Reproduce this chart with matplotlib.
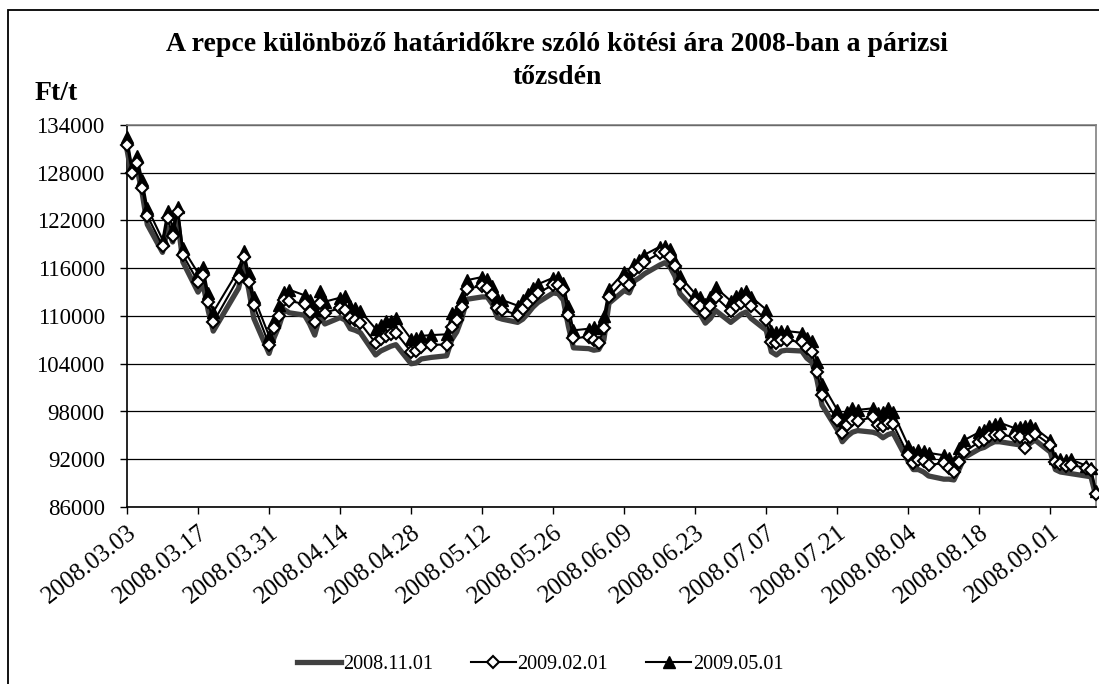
import matplotlib
matplotlib.use("Agg")
import matplotlib.pyplot as plt
from matplotlib.lines import Line2D
from matplotlib.patches import Rectangle
import datetime as dt

plt.rcParams['font.family'] = ['Liberation Serif', 'DejaVu Serif']

# trading days 2008 (Paris)
days_mar = [3, 4, 5, 6, 7, 10, 11, 12, 13, 14, 17, 18, 19, 20, 25, 26, 27, 28, 31]
days_apr = [1, 2, 3, 4, 7, 8, 9, 10, 11, 14, 15, 16, 17, 18, 21, 22, 23, 24, 25, 28, 29, 30]
days_may = [2, 5, 6, 7, 8, 9, 12, 13, 14, 15, 16, 19, 20, 21, 22, 23, 26, 27, 28, 29, 30]
days_jun = [2, 3, 4, 5, 6, 9, 10, 11, 12, 13, 16, 17, 18, 19, 20, 23, 24, 25, 26, 27, 30]
days_jul = [1, 2, 3, 4, 7, 8, 9, 10, 11, 14, 15, 16, 17, 18, 21, 22, 23, 24, 25, 28, 29, 30, 31]
days_aug = [1, 4, 5, 6, 7, 8, 11, 12, 13, 14, 15, 18, 19, 20, 21, 22, 25, 26, 27, 28, 29]
days_sep = [1, 2, 3, 4, 5, 8, 9, 10]

# 2008.11.01 contract (Ft/t)
s_2008_11 = [130900, 127400, 128500, 125400, 121500, 118000, 121100, 119300, 122000, 116800, 113000, 114000, 110700, 108100, 113500, 116300, 113300, 109700, 105300,
             107300, 108800, 110800, 110400, 110100, 109000, 107600, 109900, 109000, 109800, 109500, 108400, 108200, 107900, 105100, 105600, 105900, 106200, 106400, 104000, 104100, 104600,
             104800, 105000, 107000, 108000, 109700, 112100, 112400, 112400, 111500, 109800, 109600, 109200, 109600, 110300, 111100, 111700, 112900, 112800, 112000, 108700, 106000,
             105900, 105700, 105800, 107000, 111600, 113200, 112900, 114400, 114800, 115300, 116400, 116700, 116200, 115000, 112800, 110700, 110200, 109100, 109700, 110700, 109200,
             109700, 110200, 110500, 109700, 108200, 105500, 105100, 105600, 105700, 105600, 104700, 104200, 102000, 98800, 95700, 94200, 94900, 95400, 95600, 95400, 95200, 94700, 95100,
             95300, 91700, 90700, 90700, 90400, 89900, 89500, 89500, 89400, 90700, 92200, 93300, 93500, 93900, 94200, 94200, 93900, 93800, 93200, 94000, 94400,
             92900, 90700, 90400, 90300, 90200, 89900, 89800, 87300]

# 2009.02.01 contract (Ft/t)
s_2009_02 = [131500, 128000, 129200, 126100, 122600, 118800, 122300, 120100, 123100, 117700, 114300, 115200, 111800, 109200, 114800, 117400, 114300, 111400, 106400,
             108500, 110000, 112000, 111900, 111500, 110500, 109200, 111600, 110400, 111000, 110800, 109700, 109500, 109100, 106600, 107100, 107500, 107700, 107900, 105500, 105600, 106100,
             106400, 106400, 108600, 109500, 111100, 113400, 113800, 113500, 112600, 111000, 110800, 110100, 110900, 111600, 112300, 112900, 113900, 113900, 113300, 110100, 107200,
             107400, 107000, 106600, 108500, 112400, 114500, 113900, 115800, 116200, 116800, 117900, 118000, 117400, 116300, 114000, 111800, 111300, 110400, 111300, 112400, 110600,
             111300, 111600, 112000, 111300, 109500, 106700, 106600, 107000, 107000, 106700, 106000, 105500, 103000, 100100, 96900, 95300, 96300, 96900, 96800, 97300, 96300, 96200, 96600,
             96400, 92500, 91500, 91900, 91800, 91300, 91500, 90900, 90400, 91700, 92900, 94200, 94400, 94900, 95000, 95000, 94900, 94800, 93400, 94800, 95200,
             93800, 91700, 91400, 91100, 91300, 90900, 90600, 87600]

# 2009.05.01 contract (Ft/t)
s_2009_05 = [132500, 128700, 130100, 127100, 123600, 119600, 123200, 121100, 123700, 118500, 115400, 116100, 112900, 110500, 115800, 118200, 115400, 112400, 107500,
             109500, 111400, 113000, 113300, 112600, 112000, 110700, 113100, 111800, 112300, 112500, 111300, 111000, 110600, 108400, 108900, 109400, 109400, 109700, 107100, 107200, 107500,
             107600, 107700, 110400, 110800, 112400, 114500, 114900, 114700, 113800, 112300, 112000, 111300, 112000, 112800, 113500, 114000, 114800, 114900, 114100, 111300, 108200,
             108400, 108600, 108500, 110000, 113400, 115500, 114900, 116500, 117000, 117700, 118700, 118800, 118400, 116800, 115000, 112800, 112400, 111500, 112400, 113600, 111900,
             112500, 112900, 113100, 112400, 110800, 108100, 108000, 108100, 108100, 107900, 107200, 106900, 104200, 101500, 98200, 96900, 97900, 98400, 98200, 98400, 97800, 97900, 98400,
             97900, 93700, 92900, 93200, 93000, 92800, 92500, 92200, 91700, 93400, 94400, 95400, 95700, 96200, 96400, 96600, 95900, 96100, 96200, 96300, 95900,
             94400, 92100, 92000, 91900, 92000, 91200, 90900, 88000]

series_labels = ['2008.11.01', '2009.02.01', '2009.05.01']
title_text = 'A repce különböző határidőkre szóló kötési ára 2008-ban a párizsi\ntőzsdén'
y_unit = 'Ft/t'
y_ticks = list(range(86000, 134001, 6000))

months = [(3, days_mar), (4, days_apr), (5, days_may), (6, days_jun),
          (7, days_jul), (8, days_aug), (9, days_sep)]
dates = [dt.date(2008, m, d) for m, ds in months for d in ds]
x_ticks = [dt.date(2008, 3, 3) + dt.timedelta(days=14 * k) for k in range(14)]

W, H = 1099, 684
fig = plt.figure(figsize=(W / 100, H / 100), dpi=100)
ax = fig.add_axes([127 / W, 1 - 507 / H, (1096 - 127) / W, (507 - 125) / H])

ax.plot(dates, s_2008_11, color='#404040', lw=3.8, zorder=3, clip_on=False,
        solid_joinstyle='round')
ax.plot(dates, s_2009_05, color='black', lw=1.5, marker='^', ms=8.5,
        mfc='black', mec='black', zorder=4, clip_on=False)
ax.plot(dates, s_2009_02, color='black', lw=1.5, marker='D', ms=6.3,
        mfc='white', mec='black', mew=1.5, zorder=5, clip_on=False)

ax.set_ylim(86000, 134000)
ax.set_yticks(y_ticks)
ax.set_yticklabels([str(v) for v in y_ticks], fontsize=16.5)
ax.set_xlim(dates[0], dates[-1])
ax.set_xticks(x_ticks)
ax.set_xticklabels([d.strftime('%Y.%m.%d') for d in x_ticks], fontsize=18,
                   rotation=38, ha='right', va='top', rotation_mode='anchor')
ax.tick_params(axis='x', length=5, width=1, direction='out', pad=5)
ax.tick_params(axis='y', length=5, width=1, direction='out', pad=11)

ax.yaxis.grid(True, color='black', lw=0.9)
ax.set_axisbelow(True)
for side in ['top', 'right']:
    ax.spines[side].set_color('#808080')
    ax.spines[side].set_linewidth(1.2)
for side in ['left', 'bottom']:
    ax.spines[side].set_color('black')
    ax.spines[side].set_linewidth(1.2)

fig.text(557 / W, 1 - 61 / H, title_text, ha='center', va='center',
         fontsize=20, fontweight='bold', linespacing=1.45)
fig.text(35 / W, 1 - 94 / H, y_unit, ha='left', va='center',
         fontsize=20, fontweight='bold')

handles = [
    Line2D([], [], color='#404040', lw=3.8),
    Line2D([], [], color='black', lw=1.5, marker='D', ms=6.3, mfc='white', mec='black', mew=1.5),
    Line2D([], [], color='black', lw=1.5, marker='^', ms=8.5, mfc='black', mec='black'),
]
fig.legend(handles, series_labels, loc='center', bbox_to_anchor=(540 / W, 20 / H),
           ncol=3, frameon=False, fontsize=14.5, handlelength=2.2,
           columnspacing=1.9, handletextpad=0.1)

fig.patches.append(Rectangle((8 / W, -0.2), 1.3, 1 - 10 / H + 0.2,
                             transform=fig.transFigure, fill=False,
                             ec='black', lw=1.3))

fig.savefig('out.png', dpi=100)
